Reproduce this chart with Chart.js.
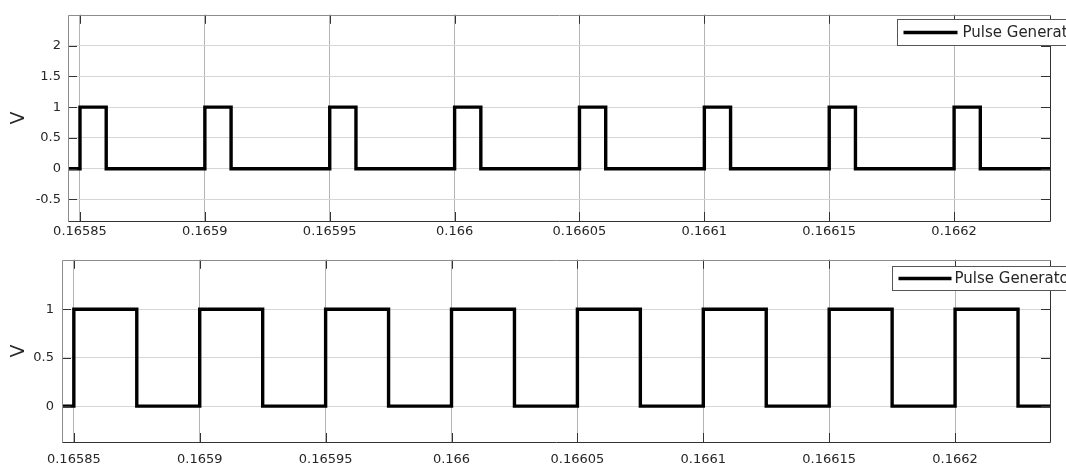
<!DOCTYPE html>
<html>
<head>
<meta charset="utf-8">
<script src="https://cdn.jsdelivr.net/npm/chart.js@4/dist/chart.umd.min.js"></script>
<style>
  html, body { margin: 0; padding: 0; background: #fff; }
  .wrap { position: absolute; left: 0; width: 1066px; }
  #topWrap { top: 0; height: 244px; }
  #bottomWrap { top: 244px; height: 225px; }
</style>
</head>
<body>
<div class="wrap" id="topWrap"><canvas id="topChart"></canvas></div>
<div class="wrap" id="bottomWrap"><canvas id="bottomChart"></canvas></div>
<script>
// x ticks shared by both plots
const xTicks = [0.16585, 0.1659, 0.16595, 0.166, 0.16605, 0.1661, 0.16615, 0.1662];
const xTickLabels = ['0.16585', '0.1659', '0.16595', '0.166', '0.16605', '0.1661', '0.16615', '0.1662'];

// top plot: short pulses
const topTimes = [0.165845, 0.16585, 0.1658605, 0.1659, 0.1659105, 0.16595, 0.1659605, 0.166, 0.1660105,
  0.16605, 0.1660605, 0.1661, 0.1661105, 0.16615, 0.1661605, 0.1662, 0.1662105, 0.16624];
const topVolts = [0, 1, 0, 1, 0, 1, 0, 1, 0, 1, 0, 1, 0, 1, 0, 1, 0, 0];
const topYTicks = [-0.5, 0, 0.5, 1, 1.5, 2];
const topYLabels = ['-0.5', '0', '0.5', '1', '1.5', '2'];

// bottom plot: 50% duty square wave
const bottomTimes = [0.165845, 0.16585, 0.165875, 0.1659, 0.165925, 0.16595, 0.165975, 0.166, 0.166025,
  0.16605, 0.166075, 0.1661, 0.166125, 0.16615, 0.166175, 0.1662, 0.166225, 0.16624];
const bottomVolts = [0, 1, 0, 1, 0, 1, 0, 1, 0, 1, 0, 1, 0, 1, 0, 1, 0, 0];
const bottomYTicks = [0, 0.5, 1];
const bottomYLabels = ['0', '0.5', '1'];

const seriesName = 'Pulse Generator';
const FONT = 'DejaVu Sans';
const TEXT = '#262626';

// box round the axes, inward tick marks, and the legend in the corner
const frameAndLegend = {
  id: 'frameAndLegend',
  afterDatasetsDraw(chart, args, opts) {
    const { ctx, chartArea: a, scales } = chart;
    const seg = (x1, y1, x2, y2) => { ctx.beginPath(); ctx.moveTo(x1, y1); ctx.lineTo(x2, y2); ctx.stroke(); };
    ctx.save();
    ctx.lineWidth = 1;
    ctx.strokeStyle = '#333';
    scales.x.ticks.forEach(t => {
      const px = Math.round(scales.x.getPixelForValue(t.value)) + 0.5;
      seg(px, a.top, px, a.top + 9);
      seg(px, a.bottom, px, a.bottom - 9);
    });
    scales.y.ticks.forEach(t => {
      const py = Math.round(scales.y.getPixelForValue(t.value)) + 0.5;
      seg(a.left, py, a.left + 9, py);
      seg(a.right, py, a.right - 9, py);
    });

    const l = Math.round(a.left) + 0.5, r = Math.round(a.right) + 0.5;
    const t = Math.round(a.top) + 0.5, b = Math.round(a.bottom) + 0.5;
    ctx.strokeStyle = '#8c8c8c';
    seg(l, t, r, t);
    seg(l, t, l, b);
    ctx.strokeStyle = '#333';
    seg(r, t, r, b);
    seg(l, b, r, b);

    // legend
    const lx = Math.round(a.right - opts.fromRight) + 0.5;
    const ly = Math.round(a.top + opts.fromTop) + 0.5;
    ctx.fillStyle = '#fff';
    ctx.fillRect(lx, ly, 300, opts.height);
    ctx.strokeStyle = '#555';
    ctx.strokeRect(lx, ly, 300, opts.height);
    const midY = ly + opts.height / 2;
    ctx.strokeStyle = '#000';
    ctx.lineWidth = 3.5;
    seg(lx + 6, midY, lx + 6 + opts.lineLen, midY);
    ctx.fillStyle = TEXT;
    ctx.font = `${opts.fontSize}px "${FONT}"`;
    ctx.textBaseline = 'middle';
    ctx.textAlign = 'left';
    ctx.fillText(chart.data.datasets[0].label, lx + 6 + opts.lineLen + opts.gap, midY + 1);
    ctx.restore();
  }
};

function pulseChart(canvasId, times, volts, cfg) {
  return new Chart(document.getElementById(canvasId), {
    type: 'line',
    data: {
      labels: times,
      datasets: [{
        label: seriesName,
        data: times.map((t, i) => ({ x: t, y: volts[i] })),
        stepped: true,
        borderColor: '#000',
        borderWidth: 3.4,
        borderJoinStyle: 'miter',
        borderCapStyle: 'butt',
        pointRadius: 0,
        fill: false
      }]
    },
    options: {
      responsive: true,
      maintainAspectRatio: false,
      animation: false,
      events: [],
      layout: { padding: { top: cfg.padTop, right: 16, left: 0, bottom: 0 } },
      plugins: {
        legend: { display: false },
        tooltip: { enabled: false },
        frameAndLegend: cfg.legend
      },
      scales: {
        x: {
          type: 'linear',
          min: cfg.xMin,
          max: cfg.xMax,
          afterBuildTicks: s => { s.ticks = xTicks.map(v => ({ value: v })); },
          afterFit: s => { s.height = cfg.xAxisHeight; },
          ticks: {
            autoSkip: false,
            maxRotation: 0,
            padding: cfg.xPad,
            color: TEXT,
            font: { family: FONT, size: 13 },
            callback: (v, i) => xTickLabels[i]
          },
          grid: { color: '#b4b4b4', drawTicks: false },
          border: { display: false }
        },
        y: {
          min: cfg.yMin,
          max: cfg.yMax,
          afterBuildTicks: s => { s.ticks = cfg.yTicks.map(v => ({ value: v })); },
          afterFit: s => { s.width = cfg.yAxisWidth; },
          ticks: {
            autoSkip: false,
            padding: cfg.yPad,
            color: TEXT,
            font: { family: FONT, size: 13 },
            callback: (v, i) => cfg.yLabels[i]
          },
          grid: { color: '#d6d6d6', drawTicks: false },
          border: { display: false },
          title: {
            display: true,
            text: 'V',
            color: TEXT,
            font: { family: FONT, size: 19, lineHeight: 1 },
            padding: { top: 10, bottom: 0 }
          }
        }
      }
    },
    plugins: [frameAndLegend]
  });
}

pulseChart('topChart', topTimes, topVolts, {
  padTop: 13, xAxisHeight: 23, yAxisWidth: 68, xPad: 3, yPad: 7,
  xMin: 0.1658452, xMax: 0.1662384, yMin: -0.85, yMax: 2.5,
  yTicks: topYTicks, yLabels: topYLabels,
  legend: { fromRight: 153, fromTop: 4, height: 26, lineLen: 54, gap: 5, fontSize: 15 }
});

pulseChart('bottomChart', bottomTimes, bottomVolts, {
  padTop: 12, xAxisHeight: 27, yAxisWidth: 62, xPad: 10, yPad: 8,
  xMin: 0.1658453, xMax: 0.1662377, yMin: -0.37, yMax: 1.51,
  yTicks: bottomYTicks, yLabels: bottomYLabels,
  legend: { fromRight: 158, fromTop: 6, height: 24, lineLen: 53, gap: 3, fontSize: 15 }
});
</script>
</body>
</html>
